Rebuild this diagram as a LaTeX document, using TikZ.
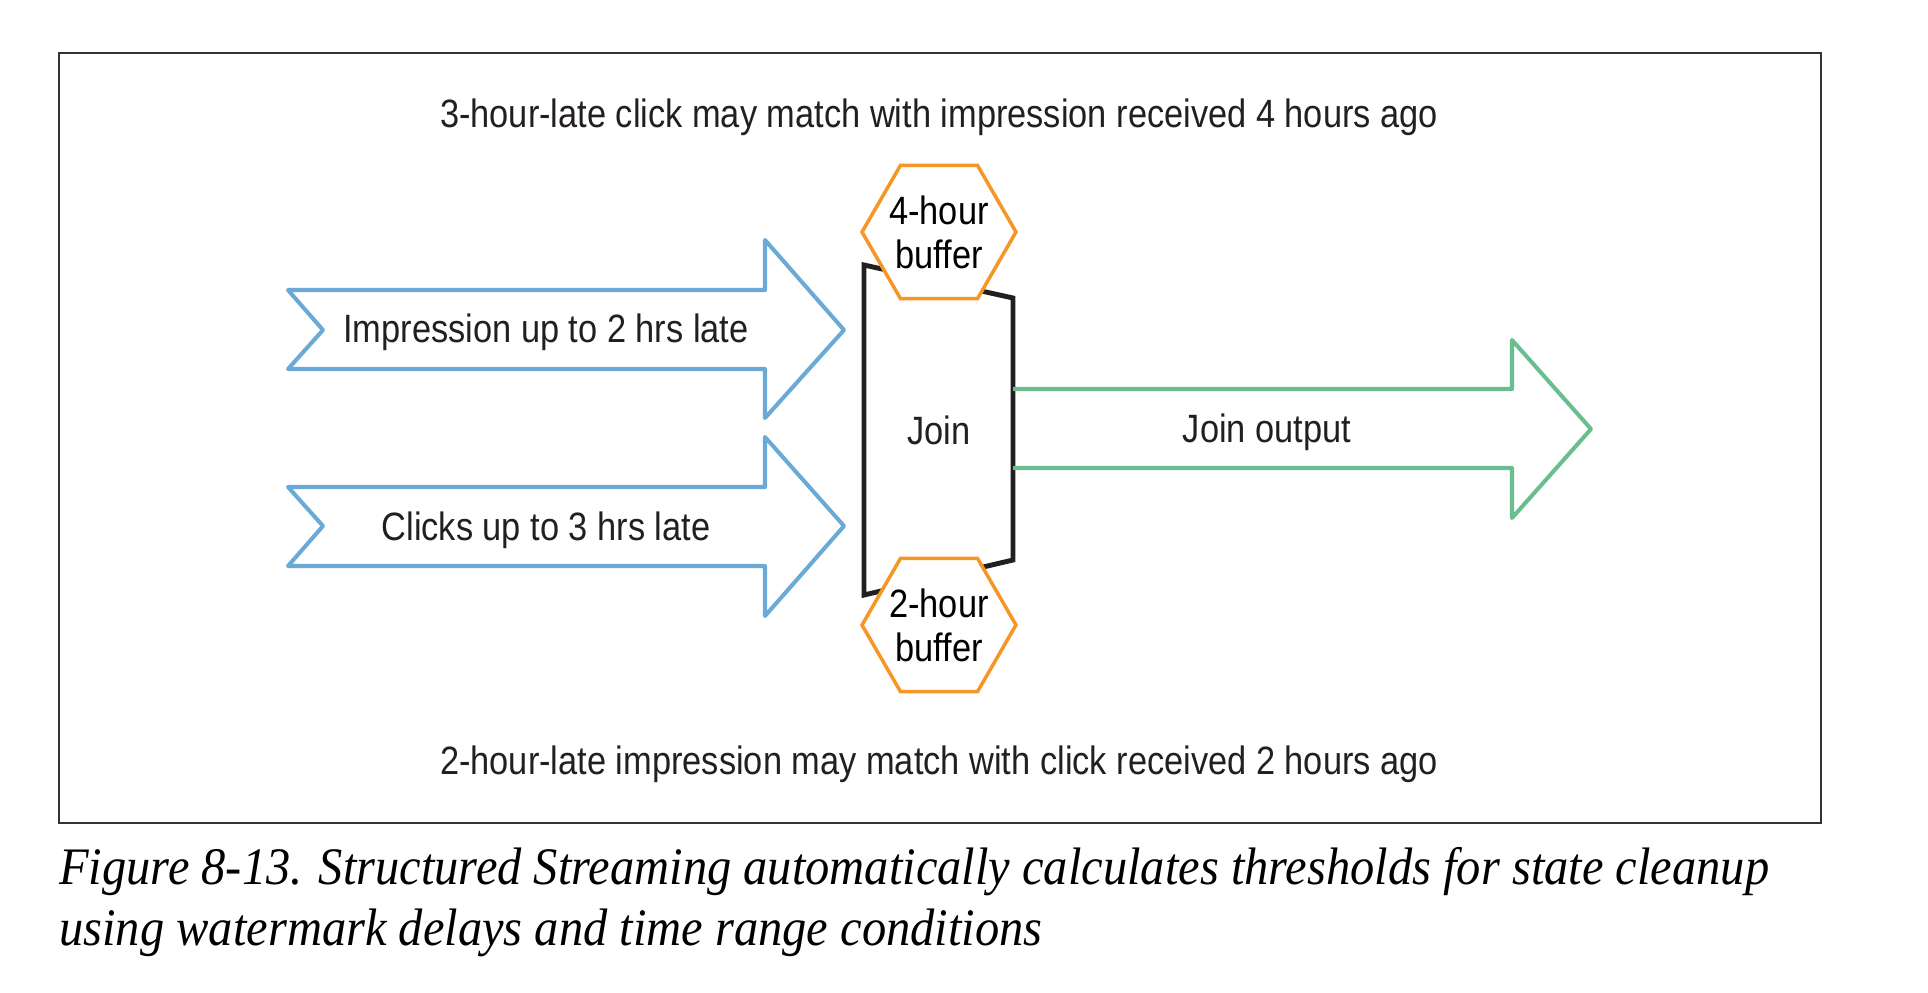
\documentclass[tikz,border=0pt]{standalone}
\usepackage{fontspec}
\setmainfont{Liberation Sans}[FakeStretch=0.87]
\newfontfamily\capfont{Liberation Serif}[FakeStretch=0.92]
\usetikzlibrary{shapes.geometric}
\definecolor{streamblue}{RGB}{107,170,214}
\definecolor{bufferorange}{RGB}{245,150,38}
\definecolor{outgreen}{RGB}{104,190,142}
\definecolor{boxblack}{RGB}{35,31,32}

\begin{document}
\begin{tikzpicture}[x=0.02cm, y=-0.02cm,
  stream/.style={draw=streamblue, line width=2.3pt, line join=round},
  output/.style={draw=outgreen, line width=2.3pt, line join=round},
  buffer/.style={regular polygon, regular polygon sides=6, draw=bufferorange,
    fill=white, line width=2pt, minimum size=3.08cm, inner sep=-8pt,
    align=center, font=\fontsize{22.5}{25}\selectfont},
  words/.style={font=\fontsize{22.5}{27}\selectfont, text=boxblack},
  ]
  \useasboundingbox (0,0) rectangle (1928,992);
  \draw[black!80, line width=1pt] (59,53) rectangle (1821,823);

  \coordinate (jtl) at (864,265);
  \coordinate (jtr) at (1013,298);
  \coordinate (jbr) at (1013,560);
  \coordinate (jbl) at (864,595);
  \draw[boxblack, line width=2.8pt] (jtl) -- (jtr) -- (jbr) -- (jbl) -- cycle;
  \node[words] (join) at (939,430) {Join};

  \draw[stream] (288,290) -- (765,290) -- (765,240) -- (844,330) -- (765,418)
    -- (765,369) -- (288,369) -- (323,330) -- cycle;
  \node[words] (impr) at (546,332) {Impression up to 2 hrs late};
  \draw[stream] (288,487) -- (765,487) -- (765,437) -- (844,526) -- (765,616)
    -- (765,566) -- (288,566) -- (323,526) -- cycle;
  \node[words] (clicks) at (546,530) {Clicks up to 3 hrs late};

  \draw[output] (jtr |- 0,389) -- (1512,389) -- (1512,340) -- (1591,429)
    -- (1512,518) -- (1512,468) -- (jbr |- 0,468);
  \node[words] (out) at (1267,432) {Join output};

  \node[buffer] (buf4) at (939,232) {4-hour\\buffer};
  \node[buffer] (buf2) at (939,625) {2-hour\\buffer};

  \node[words] (top) at (939,117) {3-hour-late click may match with impression received 4 hours ago};
  \node[words] (bottom) at (939,764) {2-hour-late impression may match with click received 2 hours ago};

  \node[anchor=west, align=left, inner sep=0pt, font=\capfont\itshape\fontsize{30}{35}\selectfont] (caption) at (59,902)
    {Figure 8-13. Structured Streaming automatically calculates thresholds for state cleanup\\
     using watermark delays and time range conditions};
\end{tikzpicture}
\end{document}
